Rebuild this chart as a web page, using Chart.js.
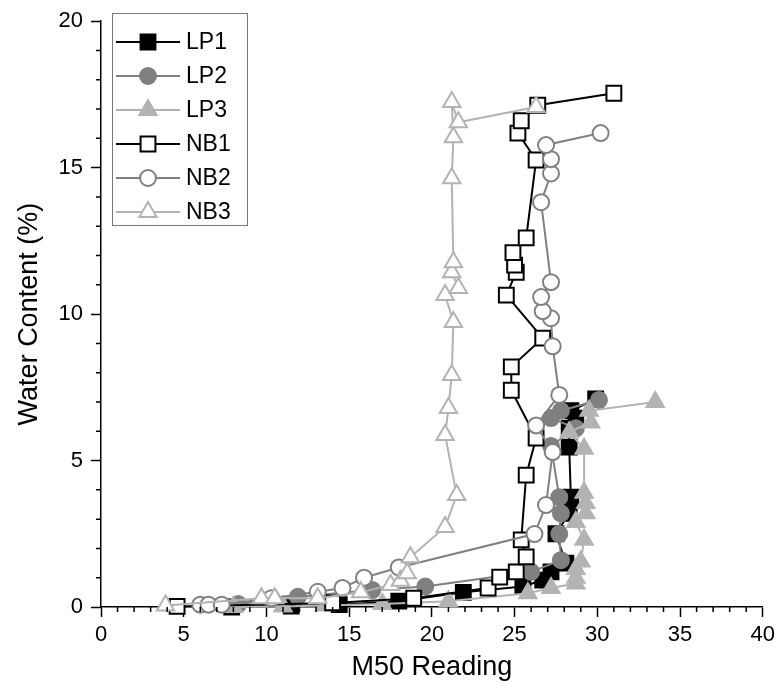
<!DOCTYPE html>
<html>
<head>
<meta charset="utf-8">
<title>Water content vs M50 reading</title>
<script src="https://cdn.jsdelivr.net/npm/chart.js@4.4.0/dist/chart.umd.min.js"></script>
<style>
    html, body { margin: 0; padding: 0; background: #fff; }
    #wrap { width: 780px; height: 693px; }
</style>
</head>
<body>
<div id="wrap"><canvas id="waterChart" width="780" height="693"></canvas></div>
<script>
// values
const seriesNames = ['LP1', 'LP2', 'LP3', 'NB1', 'NB2', 'NB3'];

const lp1X = [7.9, 11.5, 14.4, 18.0, 21.9, 25.5, 26.7, 27.2, 28.1, 27.5, 28.3, 28.4, 28.3, 28.3, 28.7, 28.4, 29.9];
const lp1Y = [0.0, 0.03, 0.08, 0.2, 0.5, 0.7, 0.92, 1.2, 1.5, 2.5, 3.2, 3.75, 5.46, 6.1, 6.45, 6.7, 7.1];

const lp2X = [8.3, 11.9, 16.4, 19.6, 26.0, 27.8, 27.7, 27.8, 27.7, 27.2, 28.7, 27.2, 27.8, 30.1];
const lp2Y = [0.1, 0.35, 0.58, 0.7, 1.2, 1.6, 2.5, 3.2, 3.75, 5.5, 6.1, 6.45, 6.7, 7.07];

const lp3X = [8.0, 11.0, 13.5, 17.0, 21.0, 25.8, 27.2, 28.7, 28.7, 28.7, 29.0, 29.2, 28.7, 29.3, 29.3, 29.2, 29.2, 28.3, 29.6, 29.5, 33.5];
const lp3Y = [0.0, 0.02, 0.05, 0.1, 0.2, 0.47, 0.65, 0.8, 1.0, 1.3, 1.55, 2.3, 2.9, 3.2, 3.55, 3.9, 5.4, 5.97, 6.3, 6.7, 7.0];

const nb1X = [4.6, 14.0, 18.9, 23.4, 24.1, 25.1, 25.7, 25.4, 25.7, 26.3, 24.8, 24.8, 26.7, 24.5, 25.1, 25.0, 24.9, 25.7, 26.3, 25.2, 25.4, 26.4, 31.0];
const nb1Y = [0.02, 0.14, 0.3, 0.65, 1.02, 1.2, 1.71, 2.29, 4.5, 5.77, 7.4, 8.2, 9.18, 10.65, 11.43, 11.67, 12.1, 12.6, 15.26, 16.18, 16.6, 17.13, 17.54];

const nb2X = [6.0, 6.5, 7.3, 10.3, 13.1, 14.6, 15.9, 18.0, 26.2, 26.9, 27.3, 26.3, 27.7, 27.3, 27.2, 26.7, 26.6, 27.2, 26.6, 27.2, 27.2, 26.9, 30.2];
const nb2Y = [0.08, 0.08, 0.08, 0.3, 0.52, 0.65, 1.0, 1.35, 2.49, 3.48, 5.29, 6.2, 7.24, 8.9, 9.86, 10.1, 10.58, 11.09, 13.82, 14.8, 15.29, 15.77, 16.18];

const nb3X = [3.9, 9.7, 10.5, 13.1, 15.7, 17.5, 18.1, 18.5, 18.7, 20.8, 21.5, 20.8, 21.0, 21.2, 21.3, 20.8, 21.6, 21.2, 21.3, 21.2, 21.3, 21.2, 21.6, 26.3];
const nb3Y = [0.05, 0.3, 0.3, 0.3, 0.5, 0.75, 0.9, 1.15, 1.7, 2.73, 3.82, 5.87, 6.79, 7.92, 9.73, 10.65, 10.89, 11.43, 11.77, 14.64, 16.04, 17.24, 16.55, 17.07];

const xTicks = [0, 5, 10, 15, 20, 25, 30, 35, 40];
const yTicks = [0, 5, 10, 15, 20];

const FONT = "'Liberation Sans', Arial, sans-serif";
const BLACK = '#000000';
const MID = '#808080';
const LIGHT = '#b3b3b3';

function pairs(xs, ys) {
    return xs.map((x, i) => ({ x: x, y: ys[i] }));
}

function series(label, xs, ys, color, style, radius, filled, order) {
    return {
        label: label,
        data: pairs(xs, ys),
        showLine: true,
        borderColor: color,
        borderWidth: 2,
        pointStyle: style,
        pointRadius: radius,
        pointHoverRadius: radius,
        pointBackgroundColor: filled ? color : '#ffffff',
        pointBorderColor: color,
        pointBorderWidth: 2,
        clip: false,
        order: order
    };
}

// minor ticks every 1 unit, outside the axes
const minorTicks = {
    id: 'minorTicks',
    afterDraw(chart) {
        const ctx = chart.ctx;
        const x = chart.scales.x, y = chart.scales.y;
        ctx.save();
        ctx.strokeStyle = BLACK;
        ctx.lineWidth = 1.5;
        ctx.beginPath();
        for (let v = x.min; v <= x.max; v++) {
            if (v % 5 === 0) continue;
            const px = x.getPixelForValue(v);
            ctx.moveTo(px, x.top);
            ctx.lineTo(px, x.top + 5);
        }
        for (let v = y.min; v <= y.max; v++) {
            if (v % 5 === 0) continue;
            const py = y.getPixelForValue(v);
            ctx.moveTo(y.right - 5, py);
            ctx.lineTo(y.right, py);
        }
        ctx.stroke();
        ctx.restore();
    }
};

// boxed legend with line + marker, like the original
const boxLegend = {
    id: 'boxLegend',
    afterDraw(chart) {
        const ctx = chart.ctx;
        const left = 112, top = 13, w = 135, h = 212;
        ctx.save();
        ctx.fillStyle = '#ffffff';
        ctx.fillRect(left, top, w, h);
        ctx.strokeStyle = '#777777';
        ctx.lineWidth = 1;
        ctx.strokeRect(left + 0.5, top + 0.5, w, h);

        chart.data.datasets.forEach((ds, i) => {
            const cy = top + 29 + i * 34;
            ctx.strokeStyle = ds.borderColor;
            ctx.lineWidth = ds.borderWidth;
            ctx.beginPath();
            ctx.moveTo(left + 4, cy);
            ctx.lineTo(left + 68, cy);
            ctx.stroke();

            ctx.fillStyle = ds.pointBackgroundColor;
            ctx.strokeStyle = ds.pointBorderColor;
            ctx.lineWidth = ds.pointBorderWidth;
            Chart.helpers.drawPoint(ctx, {
                pointStyle: ds.pointStyle,
                radius: ds.pointRadius,
                borderWidth: ds.pointBorderWidth,
                rotation: 0
            }, left + 36, cy);

            ctx.fillStyle = BLACK;
            ctx.font = '23px ' + FONT;
            ctx.textBaseline = 'middle';
            ctx.textAlign = 'left';
            ctx.fillText(ds.label, left + 74, cy + 1);
        });
        ctx.restore();
    }
};

const ctx = document.getElementById('waterChart').getContext('2d');
new Chart(ctx, {
    type: 'scatter',
    data: {
        datasets: [
            series(seriesNames[0], lp1X, lp1Y, BLACK, 'rect', 10.5, true, 6),
            series(seriesNames[1], lp2X, lp2Y, MID, 'circle', 8, true, 5),
            series(seriesNames[2], lp3X, lp3Y, LIGHT, 'triangle', 10, true, 4),
            series(seriesNames[3], nb1X, nb1Y, BLACK, 'rect', 10.5, false, 3),
            series(seriesNames[4], nb2X, nb2Y, MID, 'circle', 8, false, 2),
            series(seriesNames[5], nb3X, nb3Y, LIGHT, 'triangle', 10, false, 1)
        ]
    },
    options: {
        responsive: false,
        animation: false,
        layout: { padding: { top: 21, right: 14, left: 0, bottom: 0 } },
        plugins: {
            legend: { display: false },
            tooltip: { enabled: false }
        },
        scales: {
            x: {
                type: 'linear',
                min: xTicks[0],
                max: xTicks[xTicks.length - 1],
                afterBuildTicks: s => { s.ticks = xTicks.map(v => ({ value: v })); },
                afterFit: s => { s.height = 86; },
                ticks: { color: BLACK, padding: 5, font: { family: FONT, size: 22 } },
                grid: { drawOnChartArea: false, tickLength: 10, tickWidth: 1.5, tickColor: BLACK },
                border: { color: BLACK, width: 1.5 },
                title: {
                    display: true,
                    text: 'M50 Reading',
                    color: BLACK,
                    font: { family: FONT, size: 27 },
                    padding: { top: 4, bottom: 9 }
                }
            },
            y: {
                type: 'linear',
                min: yTicks[0],
                max: yTicks[yTicks.length - 1],
                afterBuildTicks: s => { s.ticks = yTicks.map(v => ({ value: v })); },
                afterFit: s => { s.width = 101; },
                ticks: { color: BLACK, padding: 8, font: { family: FONT, size: 22 } },
                grid: { drawOnChartArea: false, tickLength: 10, tickWidth: 1.5, tickColor: BLACK },
                border: { color: BLACK, width: 1.5 },
                title: {
                    display: true,
                    text: 'Water Content (%)',
                    color: BLACK,
                    font: { family: FONT, size: 27 },
                    padding: { top: 13, bottom: 0 }
                }
            }
        }
    },
    plugins: [minorTicks, boxLegend]
});
</script>
</body>
</html>
